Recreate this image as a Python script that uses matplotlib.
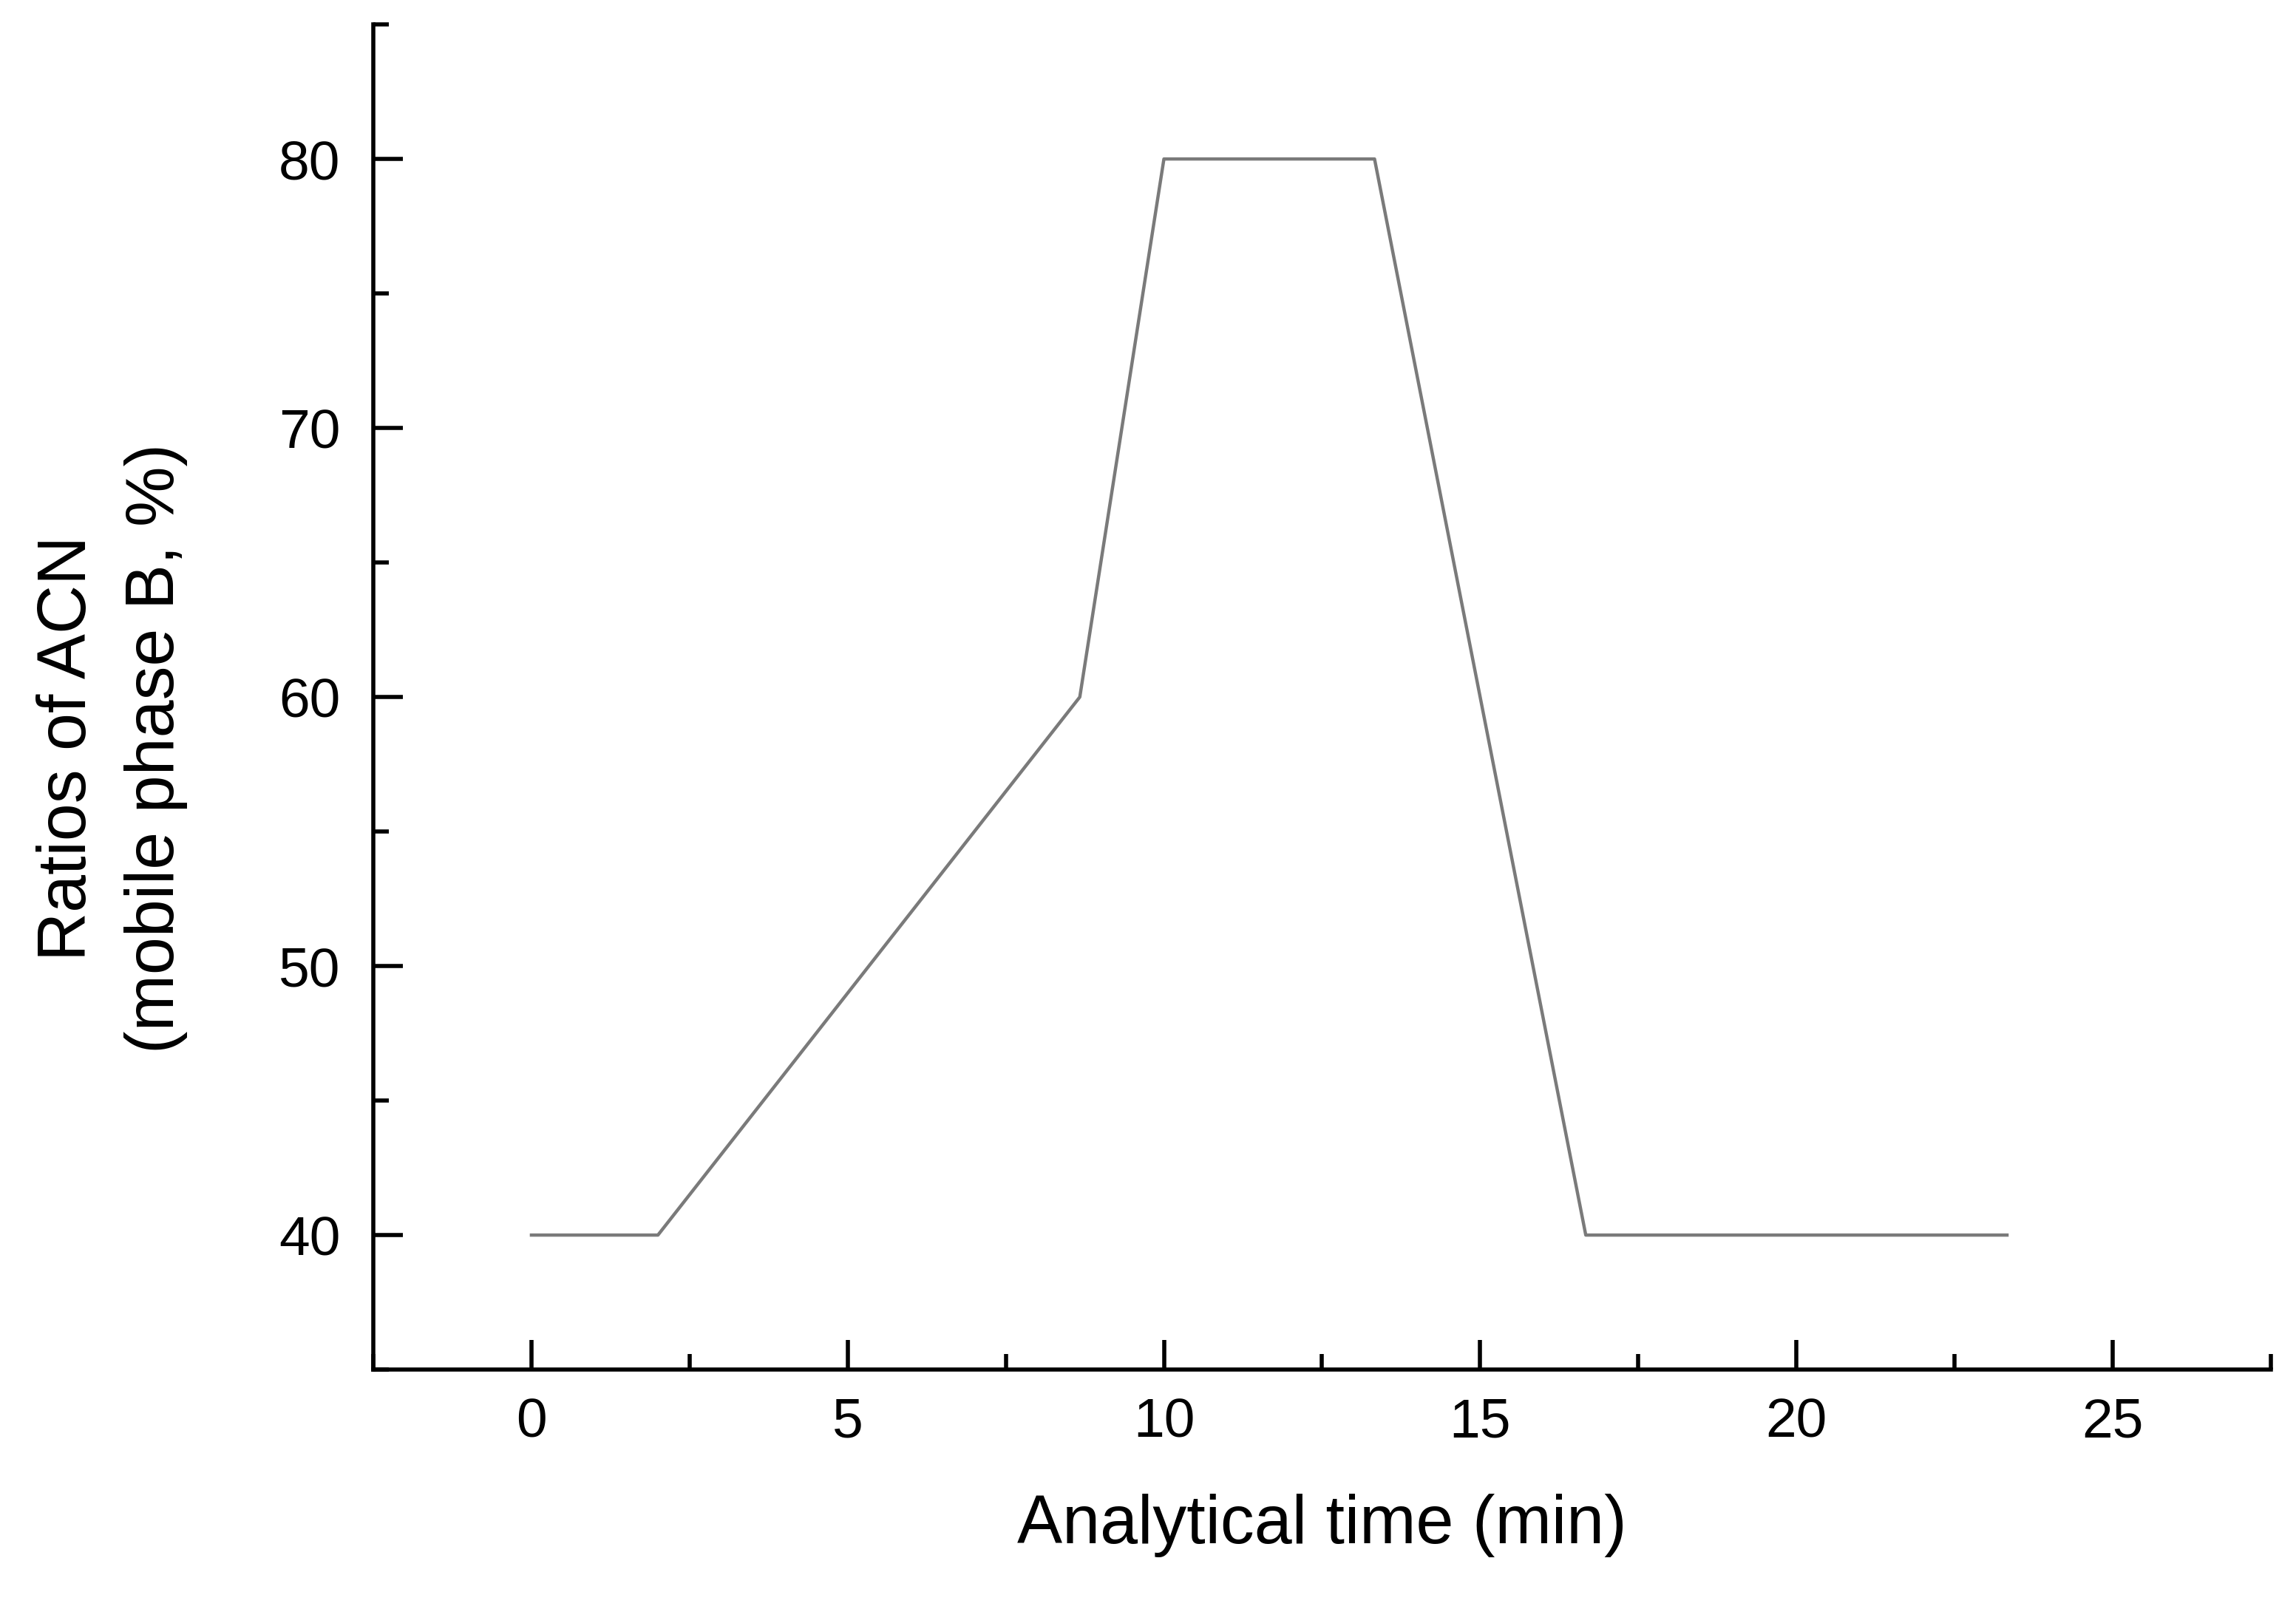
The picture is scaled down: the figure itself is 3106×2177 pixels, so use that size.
import matplotlib
matplotlib.use("Agg")
import matplotlib.pyplot as plt
from matplotlib.ticker import MultipleLocator

# gradient program (time in min, % ACN)
time_min = [0, 2, 8.67, 10, 13.33, 16.67, 23.33]
acn_pct = [40, 40, 60, 80, 80, 40, 40]

x_ticks = [0, 5, 10, 15, 20, 25]
y_ticks = [40, 50, 60, 70, 80]

plt.rcParams['font.family'] = ['Liberation Sans', 'DejaVu Sans']

fig = plt.figure(figsize=(31.06, 21.77), dpi=100)
ax = fig.add_axes([0.1626, 0.1488, 0.989 - 0.1626, 0.9848 - 0.1488])

ax.plot(time_min, acn_pct, color='#7a7a7a', lw=3.2, solid_joinstyle='round')

ax.set_xlim(-2.5, 27.5)
ax.set_ylim(35, 85)
ax.set_xticks(x_ticks)
ax.set_yticks(y_ticks)
ax.xaxis.set_minor_locator(MultipleLocator(2.5))
ax.yaxis.set_minor_locator(MultipleLocator(5))

for s in ['top', 'right']:
    ax.spines[s].set_visible(False)
for s in ['left', 'bottom']:
    ax.spines[s].set_linewidth(4)

ax.tick_params(which='both', direction='in', width=4, labelsize=54)
ax.tick_params(which='major', length=29)
ax.tick_params(which='minor', length=15)
ax.tick_params(axis='x', which='major', pad=27)
ax.tick_params(axis='y', which='major', pad=32)

ax.set_xlabel('Analytical time (min)', fontsize=66, labelpad=44)
fig.text(0.0488, 0.535, 'Ratios of ACN\n(mobile phase B, %)', rotation=90,
         ha='center', va='center', multialignment='center',
         fontsize=66, linespacing=1.5)

fig.savefig('out.png', dpi=100)
